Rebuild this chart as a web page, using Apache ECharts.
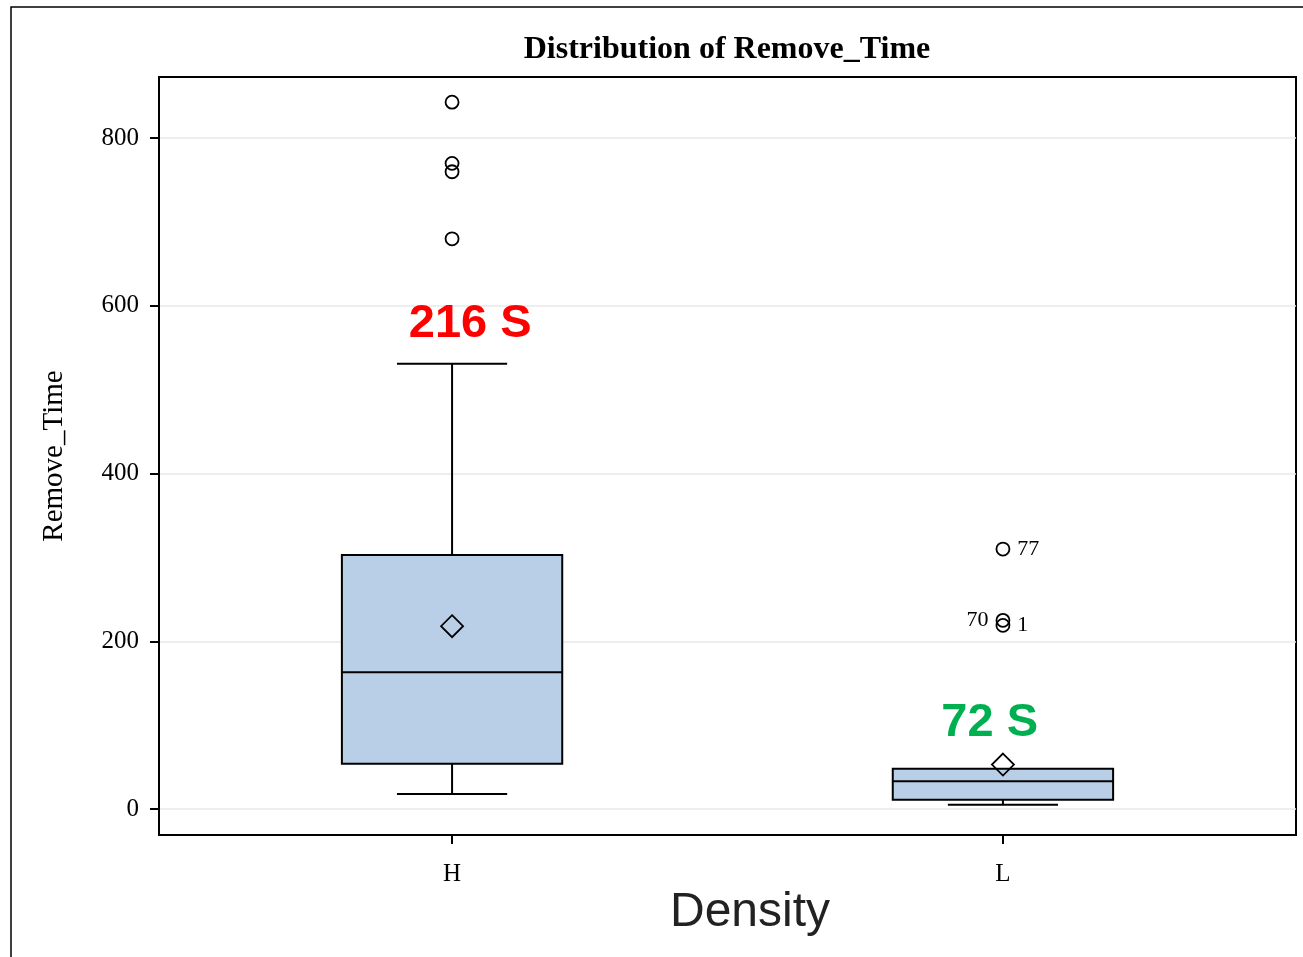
<!DOCTYPE html>
<html>
<head>
<meta charset="utf-8">
<style>html,body{margin:0;padding:0;background:#fff;}#chart{width:1303px;height:957px;}</style>
<script src="https://cdn.jsdelivr.net/npm/echarts@6/dist/echarts.min.js"></script>
</head>
<body>
<div id="chart"></div>
<script>
// ---- data ----
const categories = ['H', 'L'];
const boxMin    = [18, 5];
const boxQ1     = [54, 11];
const boxMedian = [163, 33];
const boxQ3     = [303, 48];
const boxMax    = [531, 48];
const means     = [218, 53];
const outliersH = [843, 770, 760, 680];
const outliersL = [310, 225, 219];
const outlierLabelsH = ['', '', '', ''];
const outlierLabelsL = ['77', '70', '1'];
const outlierLabelSideL = ['right', 'left', 'right'];
const yTicks = [0, 200, 400, 600, 800];
const annotTexts = ['216 S', '72 S'];
const annotX = [1.033, 1.976];
const annotY = [578, 102];
const annotColors = ['#ff0000', '#00b050'];

// ---- build ----
const serif = 'Liberation Serif';
const sans = 'Liberation Sans';
const boxData = categories.map((c, i) => [i + 1, boxMin[i], boxQ1[i], boxMedian[i], boxQ3[i], boxMax[i]]);
const meanData = categories.map((c, i) => [i + 1, means[i]]);
const outlierData = [];
outliersH.forEach((v, k) => outlierData.push({ value: [1, v], label: { formatter: outlierLabelsH[k], position: 'right' } }));
outliersL.forEach((v, k) => outlierData.push({ value: [2, v], label: { formatter: outlierLabelsL[k], position: outlierLabelSideL[k] } }));
const annotData = annotTexts.map((t, i) => ({
  value: [annotX[i], annotY[i]],
  label: { formatter: t, color: annotColors[i] }
}));

function renderBox(params, api) {
  const x = api.value(0);
  const pMin = api.coord([x, api.value(1)]);
  const pQ1 = api.coord([x, api.value(2)]);
  const pMed = api.coord([x, api.value(3)]);
  const pQ3 = api.coord([x, api.value(4)]);
  const pMax = api.coord([x, api.value(5)]);
  const half = api.size([0.2, 0])[0];
  const cap = api.size([0.1, 0])[0];
  const st = { stroke: '#000', lineWidth: 2 };
  const children = [
    { type: 'line', shape: { x1: pQ3[0], y1: pQ3[1], x2: pMax[0], y2: pMax[1] }, style: st },
    { type: 'line', shape: { x1: pMin[0], y1: pMin[1], x2: pQ1[0], y2: pQ1[1] }, style: st },
    { type: 'line', shape: { x1: pMin[0] - cap, y1: pMin[1], x2: pMin[0] + cap, y2: pMin[1] }, style: st },
    { type: 'rect', shape: { x: pQ1[0] - half, y: pQ3[1], width: 2 * half, height: pQ1[1] - pQ3[1] },
      style: { fill: '#b9cfe7', stroke: '#000', lineWidth: 2 } },
    { type: 'line', shape: { x1: pMed[0] - half, y1: pMed[1], x2: pMed[0] + half, y2: pMed[1] }, style: st }
  ];
  if (api.value(5) > api.value(4)) {
    children.push({ type: 'line', shape: { x1: pMax[0] - cap, y1: pMax[1], x2: pMax[0] + cap, y2: pMax[1] }, style: st });
  }
  return { type: 'group', children };
}

const chart = echarts.init(document.getElementById('chart'));
chart.setOption({
  animation: false,
  backgroundColor: '#fff',
  grid: { left: 159, top: 77, right: 7, bottom: 122, show: true, borderColor: '#000', borderWidth: 2, backgroundColor: 'transparent' },
  graphic: [
    { type: 'rect', shape: { x: 11, y: 7, width: 1400, height: 1000 }, style: { fill: 'none', stroke: '#000', lineWidth: 1.5 }, silent: true },
    { type: 'text', x: 727, y: 50, style: { text: 'Distribution of Remove_Time', font: 'bold 32px "' + serif + '"', fill: '#000', align: 'center', verticalAlign: 'middle' } },
    { type: 'text', x: 750, y: 913, style: { text: 'Density', font: '48px "' + sans + '"', fill: '#222', align: 'center', verticalAlign: 'middle' } }
  ],
  xAxis: {
    type: 'value', min: 0.468, max: 2.532,
    axisLine: { show: true, onZero: false, lineStyle: { color: '#000', width: 2 } },
    axisTick: { show: true, customValues: [1, 2], length: 9, lineStyle: { color: '#000', width: 2 } },
    axisLabel: { customValues: [1, 2], formatter: v => categories[Math.round(v) - 1] || '', fontFamily: serif, fontSize: 25, color: '#000', margin: 27 },
    splitLine: { show: false }
  },
  yAxis: {
    type: 'value', min: -31, max: 873,
    name: 'Remove_Time', nameLocation: 'middle', nameGap: 90,
    nameTextStyle: { fontFamily: serif, fontSize: 29, color: '#000' },
    axisLine: { show: true, onZero: false, lineStyle: { color: '#000', width: 2 } },
    axisTick: { show: true, customValues: yTicks, length: 9, lineStyle: { color: '#000', width: 2 } },
    axisLabel: { customValues: yTicks, fontFamily: serif, fontSize: 25, color: '#000', margin: 20 },
    splitLine: { show: true, lineStyle: { color: '#e9e9e9', width: 1.5 } }
  },
  series: [
    { type: 'custom', renderItem: renderBox, data: boxData, encode: { x: 0, y: [1, 2, 3, 4, 5] }, z: 2 },
    { type: 'scatter', data: meanData, symbol: 'diamond', symbolSize: 22, z: 3,
      itemStyle: { color: 'transparent', borderColor: '#000', borderWidth: 1.8, opacity: 1 } },
    { type: 'scatter', data: outlierData, symbol: 'circle', symbolSize: 13, z: 3,
      itemStyle: { color: 'transparent', borderColor: '#000', borderWidth: 1.8, opacity: 1 },
      label: { show: true, fontFamily: serif, fontSize: 22, color: '#000', distance: 7 } },
    { type: 'scatter', data: annotData, symbol: 'circle', symbolSize: 1, z: 4,
      itemStyle: { color: 'transparent', opacity: 1 },
      label: { show: true, position: 'inside', fontFamily: sans, fontWeight: 'bold', fontSize: 47 } }
  ]
});
</script>
</body>
</html>
